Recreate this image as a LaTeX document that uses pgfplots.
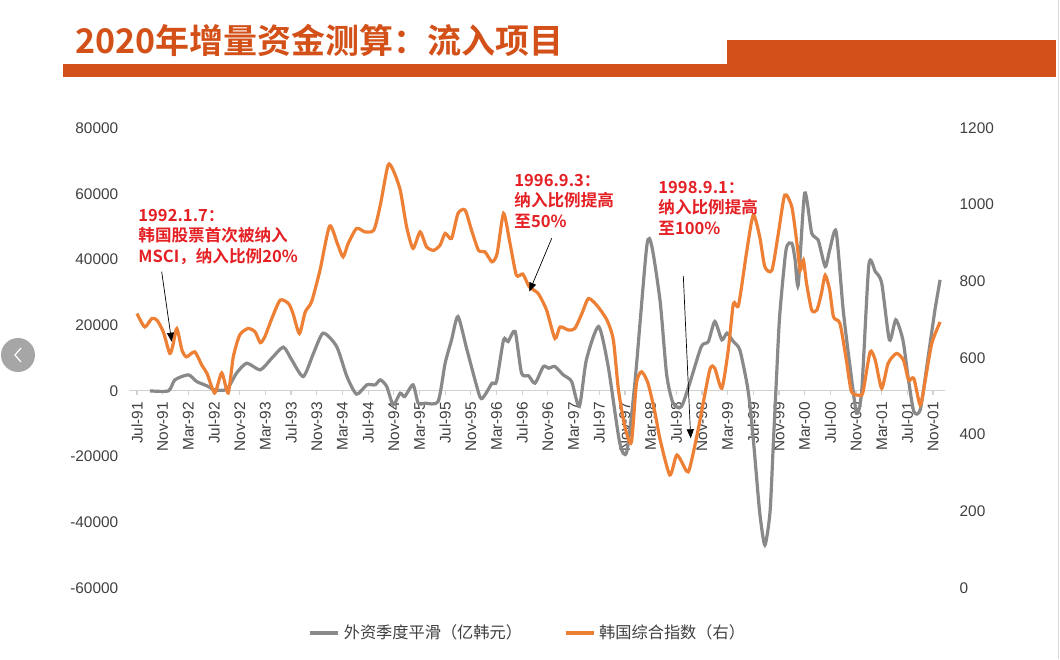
\documentclass[border=0pt]{standalone}
\usepackage{pgfplots}
\pgfplotsset{compat=1.18}
\usepackage{fontspec}
\usetikzlibrary{arrows.meta}
\setmainfont{Liberation Sans}
\newfontfamily\cjk{Noto Sans CJK SC}[BoldFont={Noto Sans CJK SC Bold}]
\definecolor{titlecol}{RGB}{211,80,24}
\definecolor{barcol}{RGB}{212,80,26}
\definecolor{grayline}{RGB}{137,137,137}
\definecolor{orangeline}{RGB}{237,128,52}
\definecolor{annot}{RGB}{228,32,36}
\definecolor{ticktext}{RGB}{64,64,64}
\begin{document}
\begin{tikzpicture}
\begin{scope}[x=0.5pt,y=-0.5pt]
\useasboundingbox (0,0) rectangle (1060,659);
\fill[white] (0,0) rectangle (1060,659);
\fill[barcol] (63,64) rectangle (1056,77);
\fill[barcol] (727,40) rectangle (1056,77);
\node[anchor=base west, inner sep=0, text=titlecol, font=\cjk\bfseries\fontsize{17}{20}\selectfont] at (75,53) {2020年增量资金测算：流入项目};
\draw[black!15, line width=0.5pt] (1058,0) -- (1058,659);
\fill[black!35] (18,355) circle (17);
\draw[white, line width=0.6pt] (21,348) -- (15,355) -- (21,362);
\end{scope}

\begin{axis}[
  at={(64.65pt,-294pt)}, anchor=south west,
  scale only axis, width=407.65pt, height=230pt,
  xmin=-1.2, xmax=125.8, ymin=-60000, ymax=80000,
  scaled y ticks=false, scaled x ticks=false,
  axis x line*=middle, axis y line*=left,
  hide obscured x ticks=false, hide obscured y ticks=false,
  x axis line style={draw=black!18, line width=0.6pt},
  y axis line style={draw=none},
  xtick={0,4,...,124},
  xticklabels={Jul-91,Nov-91,Mar-92,Jul-92,Nov-92,Mar-93,Jul-93,Nov-93,Mar-94,Jul-94,Nov-94,Mar-95,Jul-95,Nov-95,Mar-96,Jul-96,Nov-96,Mar-97,Jul-97,Nov-97,Mar-98,Jul-98,Nov-98,Mar-99,Jul-99,Nov-99,Mar-00,Jul-00,Nov-00,Mar-01,Jul-01,Nov-01},
  ytick={-60000,-40000,-20000,0,20000,40000,60000,80000},
  yticklabels={-60000,-40000,-20000,0,20000,40000,60000,80000},
  tick align=outside,
  major tick length=2pt,
  xtick style={draw=black!18, line width=0.6pt},
  ytick style={draw=none},
  xticklabel style={rotate=90, anchor=east, font=\fontsize{7.7}{8}\selectfont, text=ticktext},
  yticklabel style={font=\fontsize{7.7}{8}\selectfont, text=ticktext},
  clip=false,
]
\addplot[grayline, line width=1.6pt, smooth, tension=0.4] coordinates {
(2,0)(4.9,0)(5.9,3350)(8.0,4870)(9.3,2840)(10.9,1520)(12.1,300)(14.0,500)(15.5,5380)(17.1,8420)(19.2,6390)(21.0,9950)(22.8,13300)(24.1,9440)(25.9,4360)(27.5,11470)(29.0,17560)(31.1,13490)(32.7,4360)(34.2,-1000)(35.8,1830)(37.1,1830)(37.9,3350)(38.9,1320)(39.9,-4260)(41.0,-710)(41.7,-1730)(43.0,1830)(43.8,-3750)(44.9,-3750)(46.9,-3250)(48.0,8430)(49.0,15520)(50.0,22620)(51.4,12480)(53.4,-1730)(54.2,-1220)(55.3,2340)(56.0,2840)(57.1,15520)(57.8,15000)(58.9,18050)(59.9,5380)(61.0,4570)(62.0,2340)(63.3,7400)(64.1,6900)(65.1,7400)(66.4,4870)(67.7,2840)(68.9,-4770)(70.0,9440)(71.9,19570)(73.4,7400)(75.2,-15920)(76.3,-18470)(77.6,3350)(79.4,43930)(80.2,43930)(81.5,27000)(82.5,5000)(83.5,-3750)(84.8,-4770)(86.1,2340)(87.9,13490)(89.0,15000)(90.0,21100)(91.1,15520)(91.9,17550)(92.9,15000)(93.9,12480)(95.0,2340)(95.5,-4770)(96.1,-16900)(97.0,-37000)(97.8,-46900)(98.6,-37000)(99.1,-16900)(99.6,3350)(100.1,22600)(101.1,42920)(102.0,44950)(102.5,40000)(103.0,32270)(104.0,60180)(105.1,48000)(106.1,45960)(107.2,37840)(107.9,42920)(108.9,48500)(110.0,24660)(111.0,8430)(112.1,-6790)(112.9,300)(114.0,38350)(115.0,36300)(116.0,32780)(117.2,15520)(118.2,21610)(119.3,15520)(120.1,4360)(121.0,-6290)(122.0,-5780)(123.1,8430)(124.3,24660)(125.1,33790)
};
\end{axis}

\begin{axis}[
  at={(64.65pt,-294pt)}, anchor=south west,
  scale only axis, width=407.65pt, height=230pt,
  xmin=-1.2, xmax=125.8, ymin=0, ymax=1200,
  axis x line=none, axis y line*=right, xtick=\empty,
  y axis line style={draw=none}, ytick style={draw=none},
  tick align=outside, major tick length=2pt,
  ytick={0,200,400,600,800,1000,1200},
  yticklabels={0,200,400,600,800,1000,1200},
  yticklabel style={font=\fontsize{7.7}{8}\selectfont, text=ticktext, anchor=west, xshift=2pt},
  clip=false,
  legend style={at={(axis description cs:0.49,-0.098)}, anchor=center, draw=none, fill=none,
    font=\cjk\fontsize{8.1}{9}\selectfont, text=ticktext,
    /tikz/every even column/.append style={column sep=19pt}},
  legend columns=2,
  legend image code/.code={\draw[#1] (0pt,0pt)--(14pt,0pt);},
]
\addlegendimage{grayline, line width=1.6pt}
\addlegendentry{外资季度平滑（亿韩元）}
\addplot[orangeline, line width=1.6pt, smooth, tension=0.4] coordinates {
(0,716)(1.2,681)(2.3,703)(3.1,699)(4.1,668)(5.1,612)(5.6,634)(6.2,677)(7.0,621)(7.7,603)(9.0,616)(10.1,581)(10.9,560)(12.1,509)(13.2,561)(14.2,509)(15.0,603)(16.0,660)(17.3,677)(18.4,668)(19.2,640)(19.9,655)(21.0,703)(22.3,751)(23.6,742)(24.3,716)(25.3,664)(26.2,720)(27.2,747)(28.5,829)(30.0,944)(31.2,899)(32.1,864)(32.9,899)(34.2,938)(35.5,929)(36.9,934)(37.9,999)(39.1,1103)(39.9,1090)(41.0,1038)(42.0,942)(43.0,886)(44.1,929)(45.1,890)(46.2,881)(47.2,894)(48.0,925)(49.0,912)(50.0,977)(51.1,986)(52.1,934)(53.2,881)(54.2,877)(55.3,851)(56.1,873)(57.1,977)(58.1,899)(59.1,816)(60.1,819)(61.1,786)(62.5,768)(63.8,725)(65.1,651)(65.9,681)(67.2,673)(68.2,677)(69.3,716)(70.3,755)(71.6,738)(73.2,699)(74.2,647)(75.0,516)(76.0,421)(77.0,380)(77.8,534)(78.6,564)(79.6,534)(80.7,456)(81.5,386)(83.0,295)(84.1,347)(85.6,305)(86.1,313)(87.4,412)(89.2,568)(90.0,573)(91.1,521)(92.1,621)(92.9,742)(93.7,738)(95.0,881)(96.0,973)(97.0,916)(97.8,838)(98.9,829)(99.9,925)(100.9,1025)(102.0,994)(102.8,899)(103.3,829)(103.8,855)(104.3,794)(105.1,725)(105.9,725)(106.6,768)(107.2,816)(107.9,777)(108.5,707)(109.5,690)(110.5,594)(111.3,512)(112.6,503)(113.1,512)(114.2,616)(115.0,594)(116.0,521)(117.0,586)(118.3,612)(119.4,594)(120.2,542)(121.0,547)(122.0,477)(122.7,534)(123.8,638)(125.1,694)
};
\addlegendentry{韩国综合指数（右）}
\end{axis}

\begin{scope}[x=0.5pt,y=-0.5pt, every node/.style={anchor=base west, inner sep=0, text=annot, font=\cjk\bfseries\fontsize{8.3}{10}\selectfont}]
\node at (138,221) {1992.1.7：};
\node at (138,241) {韩国股票首次被纳入};
\node at (138,262) {MSCI，纳入比例20\%};
\node at (514,186) {1996.9.3：};
\node at (514,206) {纳入比例提高};
\node at (514,227) {至50\%};
\node at (658,193) {1998.9.1：};
\node at (658,213) {纳入比例提高};
\node at (658,234) {至100\%};
\draw[black, line width=0.35pt, -{Triangle[length=4.5pt,width=3.5pt]}] (161.7,271.7) -- (171.7,341.7);
\draw[black, line width=0.35pt, -{Triangle[length=4.5pt,width=3.5pt]}] (551.7,238.3) -- (529.3,291.7);
\draw[black, line width=0.35pt, -{Triangle[length=4.5pt,width=3.5pt]}] (683.3,276) -- (690.7,438.3);
\end{scope}
\end{tikzpicture}
\end{document}
